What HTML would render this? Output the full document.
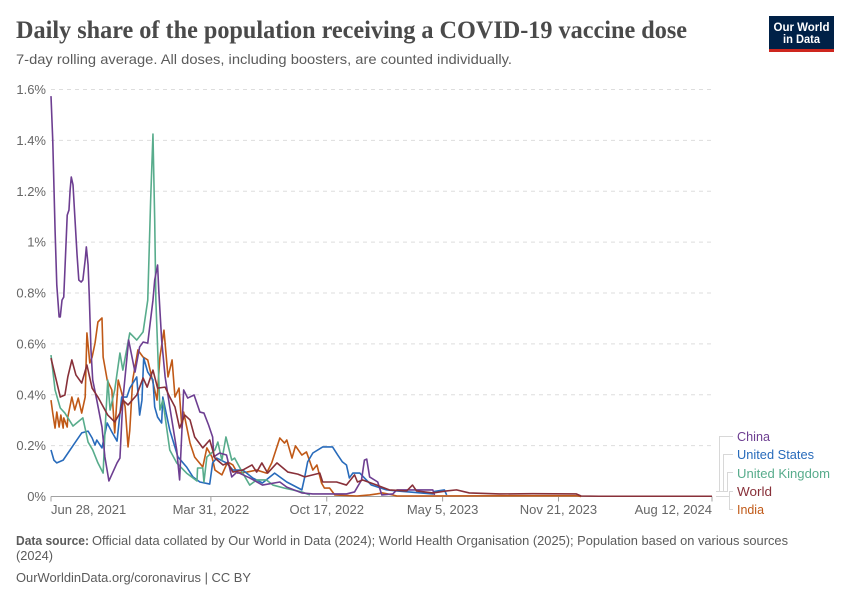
<!DOCTYPE html>
<html lang="en">
<head>
<meta charset="utf-8">
<title>Daily share of the population receiving a COVID-19 vaccine dose</title>
<style>
html,body{margin:0;padding:0;background:#fff;}
svg{display:block;font-family:"Liberation Sans",sans-serif;}
</style>
</head>
<body>
<svg id="chart" width="850" height="600" viewBox="0 0 850 600" xmlns="http://www.w3.org/2000/svg">
  <rect width="850" height="600" fill="#fff"/>
  <text x="16" y="38" font-family="'Liberation Serif',serif" font-weight="700" font-size="25" fill="#4a4a4a" textLength="671" lengthAdjust="spacingAndGlyphs">Daily share of the population receiving a COVID-19 vaccine dose</text>
  <text x="16" y="64" font-size="14" fill="#5b5b5b" textLength="496" lengthAdjust="spacingAndGlyphs">7-day rolling average. All doses, including boosters, are counted individually.</text>

  <g>
    <rect x="769" y="16" width="65" height="36" fill="#002147"/>
    <rect x="769" y="49" width="65" height="3" fill="#ce261e"/>
    <text x="801.5" y="31" text-anchor="middle" font-size="12" font-weight="700" fill="#fff" textLength="56" lengthAdjust="spacingAndGlyphs">Our World</text>
    <text x="801.5" y="43" text-anchor="middle" font-size="12" font-weight="700" fill="#fff" textLength="37" lengthAdjust="spacingAndGlyphs">in Data</text>
  </g>

  <g id="grid"></g>
  <g id="yaxis"></g>
  <g id="xaxis"></g>
  <g id="lines"></g>

  <g fill="none" stroke="#d8d8d8" stroke-width="1">
    <path d="M716 491.5H719.5V436.5H733"/>
    <path d="M716 491.5H723.5V454.5H733"/>
    <path d="M716 491.5H727.5V472.5H733"/>
    <path d="M716 496.5H729.5V491.5H733"/>
    <path d="M716 496.5H729.5V509.5H733"/>
  </g>
  <g font-size="13">
    <text x="737" y="441" fill="#6d3e91" textLength="33" lengthAdjust="spacingAndGlyphs">China</text>
    <text x="737" y="459" fill="#286bbb" textLength="77" lengthAdjust="spacingAndGlyphs">United States</text>
    <text x="737" y="478" fill="#58ac8c" textLength="93" lengthAdjust="spacingAndGlyphs">United Kingdom</text>
    <text x="737" y="496" fill="#883039" textLength="35" lengthAdjust="spacingAndGlyphs">World</text>
    <text x="737" y="514" fill="#c05917" textLength="27" lengthAdjust="spacingAndGlyphs">India</text>
  </g>

  <g font-size="13" fill="#5b5b5b">
    <text x="16" y="545" font-weight="700" textLength="73" lengthAdjust="spacingAndGlyphs">Data source:</text>
    <text x="92" y="545" textLength="696" lengthAdjust="spacingAndGlyphs">Official data collated by Our World in Data (2024); World Health Organisation (2025); Population based on various sources</text>
    <text x="16" y="560" textLength="37" lengthAdjust="spacingAndGlyphs">(2024)</text>
    <text x="16" y="582" textLength="235" lengthAdjust="spacingAndGlyphs">OurWorldinData.org/coronavirus | CC BY</text>
  </g>
</svg>
<script>
// Axis data
const yTicks = [0, 0.2, 0.4, 0.6, 0.8, 1, 1.2, 1.4, 1.6];
const yTickLabels = ["0%", "0.2%", "0.4%", "0.6%", "0.8%", "1%", "1.2%", "1.4%", "1.6%"];
const xTickDays = [0, 276, 476, 676, 876, 1141];
const xTickLabels = ["Jun 28, 2021", "Mar 31, 2022", "Oct 17, 2022", "May 5, 2023", "Nov 21, 2023", "Aug 12, 2024"];

// Series data: days since Jun 28, 2021 and daily doses as % of population
const chinaDays = [0,3,7,10,14,16,19,22,24,28,31,33,35,38,41,45,48,52,55,59,61,64,66,69,72,79,88,93,100,114,119,124,129,134,145,153,159,167,176,179,184,186,191,197,205,217,222,226,229,236,247,257,264,272,279,281,291,303,312,321,343,365,395,407,433,452,510,524,536,541,545,550,564,571,590,597,659,662];
const chinaValues = [1.574,1.401,1.048,0.831,0.706,0.706,0.772,0.784,0.89,1.106,1.126,1.205,1.256,1.225,1.106,0.949,0.851,0.843,0.851,0.93,0.981,0.91,0.792,0.576,0.458,0.379,0.273,0.156,0.061,0.132,0.151,0.379,0.497,0.615,0.489,0.588,0.607,0.603,0.772,0.851,0.91,0.812,0.615,0.47,0.352,0.183,0.065,0.261,0.419,0.387,0.399,0.332,0.328,0.281,0.234,0.156,0.171,0.163,0.077,0.096,0.073,0.045,0.057,0.037,0.014,0.01,0.01,0.018,0.065,0.143,0.147,0.077,0.057,0.006,0.01,0.026,0.026,0.006];

const usDays = [0,5,10,21,41,53,64,71,76,79,88,97,105,114,122,131,136,148,153,157,160,167,176,179,184,191,193,205,219,234,245,257,274,279,286,303,314,331,348,365,378,386,407,433,438,443,452,469,486,495,503,510,515,521,533,541,553,579,597,659,662,679,683];
const usValues = [0.183,0.143,0.132,0.143,0.21,0.25,0.257,0.23,0.202,0.222,0.191,0.289,0.254,0.218,0.391,0.391,0.426,0.47,0.32,0.379,0.544,0.489,0.458,0.352,0.312,0.289,0.391,0.261,0.156,0.116,0.077,0.057,0.049,0.132,0.151,0.132,0.104,0.104,0.073,0.053,0.077,0.092,0.057,0.026,0.077,0.136,0.171,0.195,0.195,0.163,0.136,0.124,0.073,0.092,0.092,0.073,0.045,0.026,0.022,0.01,0.02,0.026,0.006];

const ukDays = [0,7,16,24,38,55,64,72,81,90,93,98,102,110,119,124,136,148,159,167,172,176,179,181,188,193,197,205,217,234,252,253,262,264,269,283,288,295,302,312,317,331,343,355,372,383,403,433,447];
const ukValues = [0.556,0.419,0.348,0.328,0.277,0.309,0.214,0.183,0.132,0.092,0.25,0.458,0.34,0.419,0.564,0.497,0.643,0.615,0.647,0.772,1.165,1.425,1.087,0.772,0.34,0.379,0.312,0.183,0.132,0.092,0.061,0.112,0.112,0.057,0.155,0.183,0.214,0.143,0.234,0.143,0.151,0.092,0.045,0.065,0.065,0.045,0.033,0.018,0.006];

const worldDays = [0,16,24,29,36,43,53,62,71,81,98,110,119,124,133,148,159,166,176,184,197,205,214,222,231,240,248,262,274,283,297,305,314,331,347,355,364,374,390,409,426,438,464,469,493,510,524,529,538,562,584,614,624,631,659,683,700,722,774,831,907,915,946,1141];
const worldValues = [0.544,0.391,0.399,0.47,0.537,0.478,0.446,0.517,0.426,0.391,0.32,0.293,0.328,0.379,0.36,0.399,0.466,0.43,0.497,0.426,0.43,0.391,0.352,0.269,0.32,0.301,0.234,0.191,0.222,0.151,0.124,0.132,0.096,0.104,0.124,0.096,0.132,0.092,0.132,0.096,0.088,0.077,0.092,0.057,0.057,0.045,0.085,0.057,0.065,0.045,0.026,0.022,0.045,0.022,0.014,0.022,0.026,0.014,0.01,0.011,0.01,0.002,0.001,0.001];

const indiaDays = [0,3,7,10,14,17,21,22,28,29,36,41,47,53,59,62,67,71,76,81,88,90,97,105,110,116,122,128,133,136,141,150,159,167,183,188,195,202,209,214,221,226,229,240,248,262,269,278,283,295,305,314,322,338,355,372,381,395,403,407,416,422,433,441,452,459,467,472,481,490,528,550,562,572,590,597,907,915];
const indiaValues = [0.379,0.328,0.269,0.332,0.273,0.32,0.269,0.309,0.273,0.312,0.391,0.34,0.387,0.328,0.391,0.643,0.525,0.548,0.603,0.686,0.702,0.548,0.458,0.419,0.25,0.458,0.407,0.352,0.195,0.261,0.458,0.576,0.548,0.537,0.379,0.548,0.654,0.47,0.537,0.391,0.426,0.269,0.332,0.21,0.155,0.116,0.191,0.155,0.104,0.085,0.136,0.124,0.092,0.096,0.104,0.092,0.132,0.23,0.21,0.222,0.151,0.199,0.163,0.175,0.104,0.124,0.053,0.033,0.033,0.006,0.002,0.006,0.01,0.014,0.006,0.002,0.003,0];

const svgNS = "http://www.w3.org/2000/svg";
const plotLeft = 51, plotRight = 712, plotBottom = 496.5, plotTop = 89.5;
const xMaxDay = 1141, yMaxValue = 1.6;
function xScale(d) { return plotLeft + d / xMaxDay * (plotRight - plotLeft); }
function yScale(v) { return plotBottom - v / yMaxValue * (plotBottom - plotTop); }

function make(tag, attrs, parent) {
  const el = document.createElementNS(svgNS, tag);
  for (const k in attrs) el.setAttribute(k, attrs[k]);
  parent.appendChild(el);
  return el;
}

const grid = document.getElementById("grid");
const yaxis = document.getElementById("yaxis");
const xaxis = document.getElementById("xaxis");
const linesGroup = document.getElementById("lines");

yTicks.forEach(function (t, i) {
  if (t > 0) {
    const g = make("line", {x1: plotLeft, x2: plotRight, y1: yScale(t), y2: yScale(t), stroke: "#dddddd", "stroke-width": 1, "stroke-dasharray": "4,4"}, grid);
    
    
  }
  const lab = make("text", {x: 46, y: yScale(t) + 4.5, "text-anchor": "end", "font-size": 13, fill: "#666666"}, yaxis);
  
  
  lab.textContent = yTickLabels[i];
});

const axisLine = make("line", {x1: plotLeft, x2: plotRight, y1: plotBottom, y2: plotBottom, stroke: "#a1a1a1", "stroke-width": 1}, xaxis);



xTickDays.forEach(function (d, i) {
  const x = xScale(d);
  const tick = make("line", {x1: x, x2: x, y1: plotBottom, y2: plotBottom + 5, stroke: "#a1a1a1", "stroke-width": 1}, xaxis);
  
  
  const anchor = i === 0 ? "start" : (i === xTickDays.length - 1 ? "end" : "middle");
  const lab = make("text", {x: x, y: 514, "text-anchor": anchor, "font-size": 13, fill: "#666666"}, xaxis);
  
  
  lab.textContent = xTickLabels[i];
});

function drawSeries(name, days, values, color) {
  const pts = days.map(function (d, i) {
    return xScale(d).toFixed(2) + "," + yScale(values[i]).toFixed(2);
  }).join(" ");
  const line = make("polyline", {points: pts, fill: "none", stroke: color, "stroke-width": 1.6, "stroke-linejoin": "round"}, linesGroup);
  
  
}
drawSeries("line-india", indiaDays, indiaValues, "#c05917");
drawSeries("line-united-states", usDays, usValues, "#286bbb");
drawSeries("line-united-kingdom", ukDays, ukValues, "#58ac8c");
drawSeries("line-china", chinaDays, chinaValues, "#6d3e91");
drawSeries("line-world", worldDays, worldValues, "#883039");
</script>
</body>
</html>
